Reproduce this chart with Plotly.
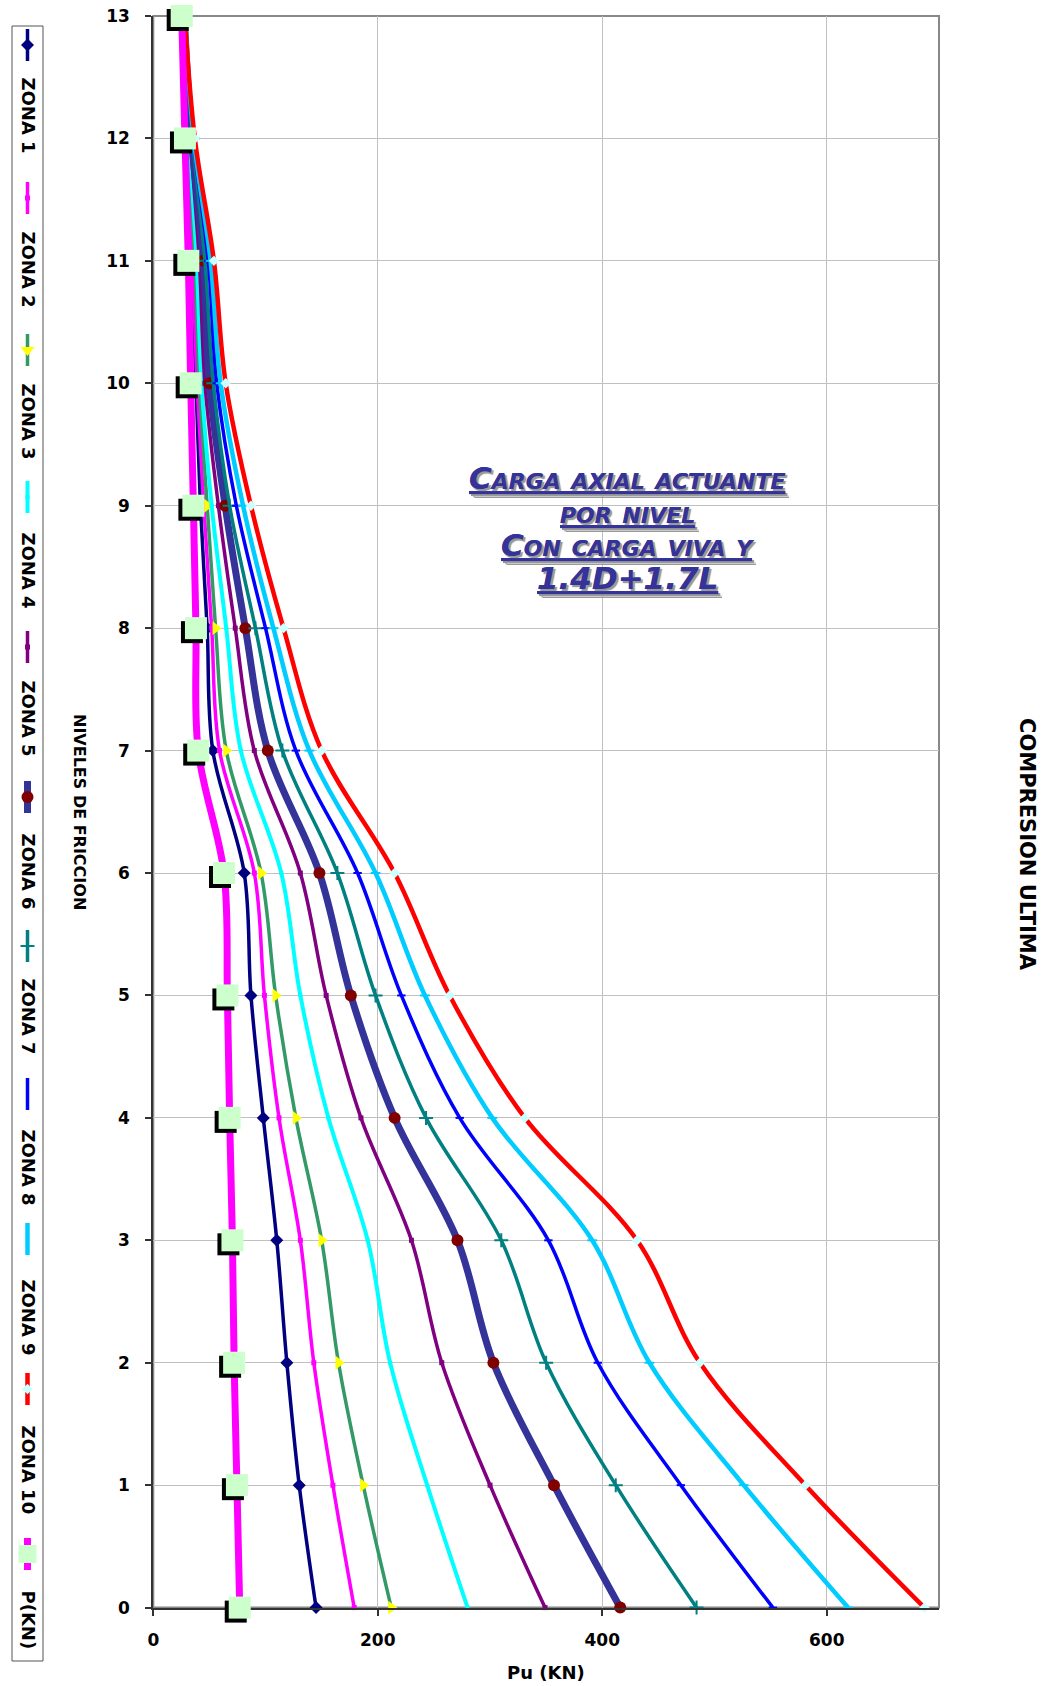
import plotly.graph_objects as go

W, H = 1042, 1686
FONT = "DejaVu Sans"

# niveles de friccion (eje y) y Pu en KN por zona (eje x)
niveles = list(range(14))
zona_1 = [145, 130, 119, 110, 98, 87, 81, 53, 48, 42, 38, 34, 30, 26]
zona_2 = [179, 160, 143, 131, 112, 99, 90, 59, 52, 45, 39, 35, 30.5, 26.5]
zona_3 = [212, 187, 165, 150, 127, 109, 96, 65, 55.5, 48, 41, 37, 31, 27]
zona_4 = [280, 244, 211, 191, 156, 131, 114, 78, 65, 52, 43, 38.6, 32, 27]
zona_5 = [349, 300, 257, 230, 185, 154, 131, 90, 73, 58, 46, 41, 33, 27]
zona_6 = [416, 357, 303, 271, 215, 176, 148, 102, 82, 64, 50, 44.6, 34, 27.5]
zona_7 = [484, 412, 350, 310, 243, 198, 164, 115, 91, 68, 53.5, 46, 35, 27.5]
zona_8 = [552, 470, 396, 352, 273, 221, 182, 127, 100, 74, 56.5, 49, 35.5, 28]
zona_9 = [619, 526, 442, 391, 302, 242, 198, 139, 107, 80, 60, 51, 36, 28]
zona_10 = [687, 581, 487, 431, 331, 264, 215, 150, 116, 87, 64.5, 54, 37, 28]
p_kn = [77, 74.5, 72, 70.5, 68, 66, 63, 40, 38, 35.7, 33.3, 31.2, 28.2, 25.3]

x_ticks = [0, 200, 400, 600]
nombres = ["ZONA 1", "ZONA 2", "ZONA 3", "ZONA 4", "ZONA 5", "ZONA 6",
           "ZONA 7", "ZONA 8", "ZONA 9", "ZONA 10", "P(KN)"]
series = [zona_1, zona_2, zona_3, zona_4, zona_5, zona_6,
          zona_7, zona_8, zona_9, zona_10, p_kn]
titulo = ["Carga axial actuante", "por nivel", "Con carga viva y", "1.4D+1.7L"]

# estilo de cada serie: color de linea, ancho, simbolo, tamano, color de marcador
estilos = [
    ("#000080", 3.5, "diamond", 10, "#000080"),
    ("#FF00FF", 3.5, "square", 5, "#FF00FF"),
    ("#339966", 3.5, "triangle-right", 12, "#FFFF00"),
    ("#00FFFF", 4, "square", 4, "#00FFFF"),
    ("#800080", 3.5, "square", 5, "#800080"),
    ("#333399", 7, "circle", 12, "#800000"),
    ("#008080", 3.5, "cross-thin-open", 10, "#008080"),
    ("#0000FF", 3.5, "line-ew-open", 6, "#0000FF"),
    ("#00CCFF", 4.5, "line-ew-open", 7, "#00CCFF"),
    ("#FF0000", 4.5, "diamond", 8, "#CCFFFF"),
    ("#FF00FF", 7, "square", 22, "#CCFFCC"),
]

# area de trazado en pixeles
px0, px1 = 153.3, 939.0
py_top, py_bot = 16.0, 1607.6


def dom_x(a, b):
    return [a / W, b / W]


def dom_y(top, bot):
    return [1 - bot / H, 1 - top / H]


fig = go.Figure()

for i, (nombre, vals) in enumerate(zip(nombres, series)):
    color, ancho, simbolo, tam, mcolor = estilos[i]
    es_p = nombre == "P(KN)"
    marker = dict(symbol=simbolo, size=tam, color=mcolor, line=dict(width=0))
    if simbolo.endswith("open"):
        marker["line"] = dict(width=2, color=mcolor)
    fig.add_trace(go.Scatter(
        x=vals, y=niveles, name=nombre,
        mode="lines" if es_p else "lines+markers",
        line=dict(color=color, width=ancho, shape="spline", smoothing=1),
        marker=marker, cliponaxis=False, showlegend=False,
        xaxis="x", yaxis="y",
    ))

# sombra negra y cuadros de P(KN)
fig.add_trace(go.Scatter(
    x=p_kn, y=niveles, mode="markers", xaxis="x2", yaxis="y2",
    marker=dict(symbol="square", size=22, color="black", line=dict(width=0)),
    cliponaxis=False, showlegend=False, hoverinfo="skip",
))
fig.add_trace(go.Scatter(
    x=p_kn, y=niveles, mode="markers", xaxis="x3", yaxis="y3",
    marker=dict(symbol="square", size=22, color="#CCFFCC", line=dict(width=0)),
    cliponaxis=False, showlegend=False, name="P(KN)",
))

# leyenda vertical (posiciones en pixeles)
leg_x = 27.5
leg_marca_y = [45, 198, 350, 497, 647, 797, 946, 1094, 1239, 1389, 1554]
leg_texto_y = [115, 269, 421, 570, 718, 871, 1016, 1167, 1317, 1470, 1620]

fig.add_shape(type="rect", xref="x4", yref="y4", x0=12, x1=43, y0=26, y1=1661,
              line=dict(color="#555555", width=1), layer="below")
for i, nombre in enumerate(nombres):
    color, ancho, simbolo, tam, mcolor = estilos[i]
    ym = leg_marca_y[i]
    fig.add_shape(type="line", xref="x4", yref="y4", x0=leg_x, x1=leg_x,
                  y0=ym - 16, y1=ym + 16, layer="below",
                  line=dict(color=color, width=ancho))
    marker = dict(symbol=simbolo, size=tam, color=mcolor, line=dict(width=0), angle=90)
    if simbolo.endswith("open"):
        marker["line"] = dict(width=2, color=mcolor)
    if nombre == "P(KN)":
        marker["size"] = 18
    fig.add_trace(go.Scatter(
        x=[leg_x], y=[ym], mode="markers", xaxis="x4", yaxis="y4",
        marker=marker, cliponaxis=False, showlegend=False, hoverinfo="skip",
    ))
    fig.add_annotation(x=leg_x + 1, y=leg_texto_y[i], xref="x4", yref="y4",
                       text=nombre, textangle=90, showarrow=False,
                       xanchor="center", yanchor="middle",
                       font=dict(family=FONT, size=18, color="black", weight="bold"))

# marco gris del area de trazado
fig.add_shape(type="rect", xref="paper", yref="paper",
              x0=px0 / W, x1=px1 / W, y0=1 - py_bot / H, y1=1 - py_top / H,
              line=dict(color="#888888", width=2), layer="below")

tick_font = dict(family=FONT, size=17, color="black", weight="bold")
fig.update_layout(
    width=W, height=H,
    margin=dict(l=0, r=0, t=0, b=0),
    paper_bgcolor="white",
    plot_bgcolor="rgba(0,0,0,0)",
    showlegend=False,
    xaxis=dict(domain=dom_x(px0, px1), range=[0, 700], tickvals=x_ticks,
               showgrid=True, gridcolor="#C0C0C0", gridwidth=1, zeroline=False,
               showline=True, linecolor="#333333", linewidth=2,
               ticks="outside", ticklen=6, tickcolor="#333333", tickwidth=2,
               ticklabelstandoff=10, tickfont=tick_font, anchor="y",
               automargin=False, fixedrange=True),
    yaxis=dict(domain=dom_y(py_top, py_bot), range=[0, 13], dtick=1, tick0=0,
               showgrid=True, gridcolor="#C0C0C0", gridwidth=1, zeroline=False,
               showline=True, linecolor="#333333", linewidth=2,
               ticks="outside", ticklen=6, tickcolor="#333333", tickwidth=2,
               ticklabelstandoff=12, tickfont=tick_font, anchor="x",
               automargin=False, fixedrange=True),
    xaxis2=dict(domain=dom_x(px0 - 4, px1 - 4), range=[0, 700], visible=False,
                anchor="y2", fixedrange=True),
    yaxis2=dict(domain=dom_y(py_top + 4, py_bot + 4), range=[0, 13], visible=False,
                anchor="x2", fixedrange=True),
    xaxis3=dict(domain=dom_x(px0, px1), range=[0, 700], visible=False,
                anchor="y3", fixedrange=True),
    yaxis3=dict(domain=dom_y(py_top, py_bot), range=[0, 13], visible=False,
                anchor="x3", fixedrange=True),
    xaxis4=dict(domain=[0, 1], range=[0, W], visible=False, anchor="y4",
                fixedrange=True),
    yaxis4=dict(domain=[0, 1], range=[H, 0], visible=False, anchor="x4",
                fixedrange=True),
)

# titulo del grafico, una anotacion por renglon
titulo_y = [478, 512, 545, 578]
for texto, ty in zip(titulo, titulo_y):
    fig.add_annotation(x=627, y=ty, xref="x4", yref="y4", showarrow=False,
                       text=texto, xanchor="center", yanchor="middle",
                       font=dict(family=FONT, size=31, color="#333399", weight="bold",
                                 style="italic", variant="small-caps",
                                 lineposition="under", shadow="2px 2px 1px #9a9a9a"))

fig.add_annotation(x=546, y=1672, xref="x4", yref="y4", showarrow=False,
                   text="Pu (KN)", xanchor="center", yanchor="middle",
                   font=dict(family=FONT, size=18, color="black", weight="bold"))
fig.add_annotation(x=80, y=812, xref="x4", yref="y4", showarrow=False,
                   text="NIVELES DE FRICCION", textangle=90,
                   xanchor="center", yanchor="middle",
                   font=dict(family=FONT, size=16, color="black", weight="bold"))
fig.add_annotation(x=1027, y=844, xref="x4", yref="y4", showarrow=False,
                   text="COMPRESION ULTIMA", textangle=90,
                   xanchor="center", yanchor="middle",
                   font=dict(family=FONT, size=21, color="black", weight="bold"))

fig.write_html("out.html", config={"displayModeBar": False},
               post_script="document.body.style.margin='0';")
